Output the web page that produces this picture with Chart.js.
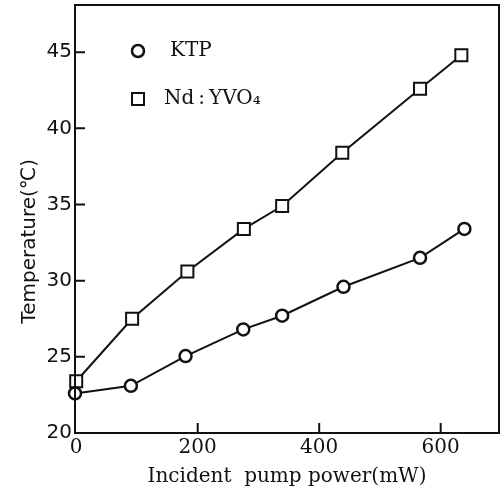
<!DOCTYPE html>
<html>
<head>
<meta charset="utf-8">
<script src="https://cdn.jsdelivr.net/npm/chart.js@4.4.0/dist/chart.umd.min.js"></script>
<style>
  html, body { margin: 0; padding: 0; background: #fff; }
  #wrap { width: 504px; height: 494px; }
</style>
</head>
<body>
<div id="wrap"><canvas id="c" width="504" height="494"></canvas></div>
<script>
// 数据 - 从图中读取
const ktpPower = [-2, 90, 180, 275, 339, 440, 566, 639];
const ktpTemp = [22.6, 23.1, 25.05, 26.8, 27.7, 29.6, 31.5, 33.4];
const ndPower = [0, 92, 183, 276, 339, 438, 566, 634];
const ndTemp = [23.4, 27.5, 30.6, 33.4, 34.9, 38.4, 42.6, 44.8];
const xTicks = [0, 200, 400, 600];
const yTicks = [20, 25, 30, 35, 40, 45];
const legendLabels = ['KTP', 'Nd\u2009:\u2009YVO\u2084'];

const toXY = (xs, ys) => xs.map((x, i) => ({ x: x, y: ys[i] }));

// 边框和向内的刻度线
const framePlugin = {
    id: 'frame',
    afterDraw(chart) {
        const ctx = chart.ctx;
        const a = chart.chartArea;
        const xs = chart.scales.x;
        const ys = chart.scales.y;
        ctx.save();
        ctx.strokeStyle = '#111';
        ctx.lineWidth = 2;
        ctx.strokeRect(a.left, a.top, a.right - a.left, a.bottom - a.top);
        ctx.beginPath();
        yTicks.forEach(v => {
            if (v === 20) return;
            const y = ys.getPixelForValue(v);
            ctx.moveTo(a.left, y);
            ctx.lineTo(a.left + 10, y);
        });
        xTicks.forEach(v => {
            if (v === 0) return;
            const x = xs.getPixelForValue(v);
            ctx.moveTo(x, a.bottom);
            ctx.lineTo(x, a.bottom - 10);
        });
        ctx.stroke();

        // 图例
        ctx.fillStyle = '#fff';
        ctx.lineWidth = 2.5;
        ctx.beginPath();
        ctx.arc(138, 51, 6, 0, Math.PI * 2);
        ctx.fill();
        ctx.stroke();
        ctx.lineWidth = 2;
        ctx.beginPath();
        ctx.rect(132, 93, 12, 12);
        ctx.fill();
        ctx.stroke();
        ctx.fillStyle = '#111';
        ctx.font = '20px "DejaVu Serif", serif';
        ctx.textBaseline = 'middle';
        ctx.textAlign = 'left';
        ctx.fillText(legendLabels[0], 170, 51);
        ctx.fillText(legendLabels[1], 164, 99);
        ctx.restore();
    }
};

new Chart(document.getElementById('c'), {
    type: 'line',
    data: {
        datasets: [{
            label: legendLabels[0],
            data: toXY(ktpPower, ktpTemp),
            borderColor: '#111',
            borderWidth: 2,
            pointStyle: 'circle',
            pointRadius: 6,
            pointBorderWidth: 2.5,
            pointBackgroundColor: '#fff',
            pointBorderColor: '#111',
            tension: 0
        }, {
            label: legendLabels[1],
            data: toXY(ndPower, ndTemp),
            borderColor: '#111',
            borderWidth: 2,
            pointStyle: 'rect',
            pointRadius: 8.5,
            pointBorderWidth: 2,
            pointBackgroundColor: '#fff',
            pointBorderColor: '#111',
            tension: 0
        }]
    },
    options: {
        responsive: false,
        animation: false,
        clip: false,
        layout: { autoPadding: false, padding: { top: 5, right: 5, left: 0, bottom: 0 } },
        plugins: {
            legend: { display: false },
            tooltip: { enabled: false }
        },
        scales: {
            x: {
                type: 'linear',
                min: -2,
                max: 696,
                afterBuildTicks: s => { s.ticks = xTicks.map(v => ({ value: v })); },
                afterFit: s => { s.height = 61; s.paddingLeft = 0; s.paddingRight = 0; },
                grid: { display: false, drawTicks: false },
                border: { display: false },
                ticks: {
                    color: '#111',
                    padding: 3,
                    maxRotation: 0,
                    font: { family: '"DejaVu Serif", serif', size: 20 }
                },
                title: {
                    display: true,
                    text: 'Incident  pump power(mW)',
                    color: '#111',
                    padding: { top: 0, bottom: 5 },
                    font: { family: '"DejaVu Serif", serif', size: 20 }
                }
            },
            y: {
                type: 'linear',
                min: 20,
                max: 48.1,
                afterBuildTicks: s => { s.ticks = yTicks.map(v => ({ value: v })); },
                afterFit: s => { s.width = 75; s.paddingTop = 0; s.paddingBottom = 0; },
                grid: { display: false, drawTicks: false },
                border: { display: false },
                ticks: {
                    color: '#111',
                    padding: 3,
                    font: { family: '"DejaVu Sans", sans-serif', size: 20 }
                },
                title: {
                    display: true,
                    text: 'Temperature(\u2103)       ',
                    color: '#111',
                    padding: { top: 18, bottom: 0 },
                    font: { family: '"DejaVu Sans", sans-serif', size: 20 }
                }
            }
        }
    },
    plugins: [framePlugin]
});
</script>
</body>
</html>
